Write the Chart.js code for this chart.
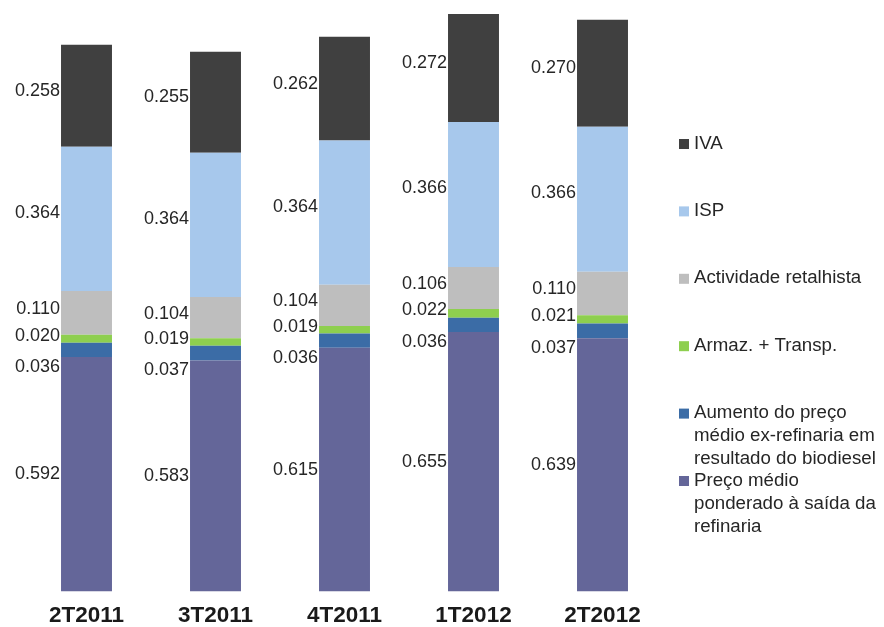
<!DOCTYPE html>
<html>
<head>
<meta charset="utf-8">
<script src="https://cdn.jsdelivr.net/npm/chart.js@4.4.1/dist/chart.umd.min.js"></script>
<style>
  html, body { margin: 0; padding: 0; background: #ffffff; }
  #wrap { position: relative; width: 884px; height: 627px; }
</style>
</head>
<body>
<div id="wrap"><canvas id="c" width="884" height="627"></canvas></div>
<script>
// ---- data ----
const categories = ['2T2011', '3T2011', '4T2011', '1T2012', '2T2012'];
const precoMedio  = [0.592, 0.583, 0.615, 0.655, 0.639];
const aumentoBio  = [0.036, 0.037, 0.036, 0.036, 0.037];
const armazTransp = [0.020, 0.019, 0.019, 0.022, 0.021];
const retalhista  = [0.110, 0.104, 0.104, 0.106, 0.110];
const isp         = [0.364, 0.364, 0.364, 0.366, 0.366];
const iva         = [0.258, 0.255, 0.262, 0.272, 0.270];
const seriesNames = [
  'Preço médio ponderado à saída da refinaria',
  'Aumento do preço médio ex-refinaria em resultado do biodiesel',
  'Armaz. + Transp.',
  'Actividade retalhista',
  'ISP',
  'IVA'
];

// ---- styles ----
const colors = ['#646699', '#3b6ca6', '#8ecf4f', '#bebebe', '#a7c8ec', '#404040'];
const labelOffsets = [0, 17, -3, -4, -6, -5];
const FONT = '"Liberation Sans", Arial, sans-serif';

const seriesValues = [precoMedio, aumentoBio, armazTransp, retalhista, isp, iva];
const datasets = seriesValues.map((vals, i) => ({
  label: seriesNames[i],
  data: vals,
  backgroundColor: colors[i],
  borderWidth: 0,
  barPercentage: 0.395,
  categoryPercentage: 1.0
}));

const valueLabels = {
  id: 'valueLabels',
  afterDatasetsDraw(chart) {
    const ctx = chart.ctx;
    ctx.save();
    ctx.font = '18px ' + FONT;
    ctx.fillStyle = '#262626';
    ctx.textAlign = 'right';
    ctx.textBaseline = 'middle';
    chart.data.datasets.forEach((ds, di) => {
      const meta = chart.getDatasetMeta(di);
      meta.data.forEach((bar, idx) => {
        const p = bar.getProps(['x', 'y', 'base', 'width'], true);
        const cy = (p.y + p.base) / 2 + labelOffsets[di];
        const left = p.x - p.width / 2 - 1;
        ctx.fillText(ds.data[idx].toFixed(3), left, cy);
      });
    });
    ctx.restore();
  }
};

function wrapText(ctx, text, maxW) {
  const words = text.split(' ');
  const lines = [];
  let cur = '';
  words.forEach(w => {
    const t = cur ? cur + ' ' + w : w;
    if (ctx.measureText(t).width > maxW && cur) { lines.push(cur); cur = w; }
    else cur = t;
  });
  if (cur) lines.push(cur);
  return lines;
}

const customLegend = {
  id: 'customLegend',
  afterDraw(chart) {
    const ctx = chart.ctx;
    ctx.save();
    ctx.font = '18.7px ' + FONT;
    ctx.textBaseline = 'middle';
    ctx.textAlign = 'left';
    const n = chart.data.datasets.length;
    const x0 = 679, y0 = 143.5, step = 67.4, lh = 23;
    for (let k = 0; k < n; k++) {
      const di = n - 1 - k;
      const ds = chart.data.datasets[di];
      const y = y0 + k * step;
      ctx.fillStyle = ds.backgroundColor;
      ctx.fillRect(x0, y - 4.5, 10, 10);
      ctx.fillStyle = '#262626';
      const lines = wrapText(ctx, ds.label, 192);
      lines.forEach((ln, li) => ctx.fillText(ln, x0 + 15, y + li * lh));
    }
    ctx.restore();
  }
};

new Chart(document.getElementById('c'), {
  type: 'bar',
  data: { labels: categories, datasets },
  options: {
    responsive: false,
    animation: false,
    devicePixelRatio: 1,
    layout: { padding: { left: 22, right: 217, top: 5, bottom: -13 } },
    plugins: { legend: { display: false }, tooltip: { enabled: false } },
    scales: {
      x: {
        stacked: true,
        grid: { display: false, drawTicks: false },
        border: { display: false },
        ticks: { color: '#1a1a1a', font: { family: FONT, size: 22.5, weight: 'bold', lineHeight: 1 }, padding: 13 }
      },
      y: {
        stacked: true,
        display: false,
        min: 0,
        max: 1.48
      }
    }
  },
  plugins: [valueLabels, customLegend]
});
</script>
</body>
</html>
